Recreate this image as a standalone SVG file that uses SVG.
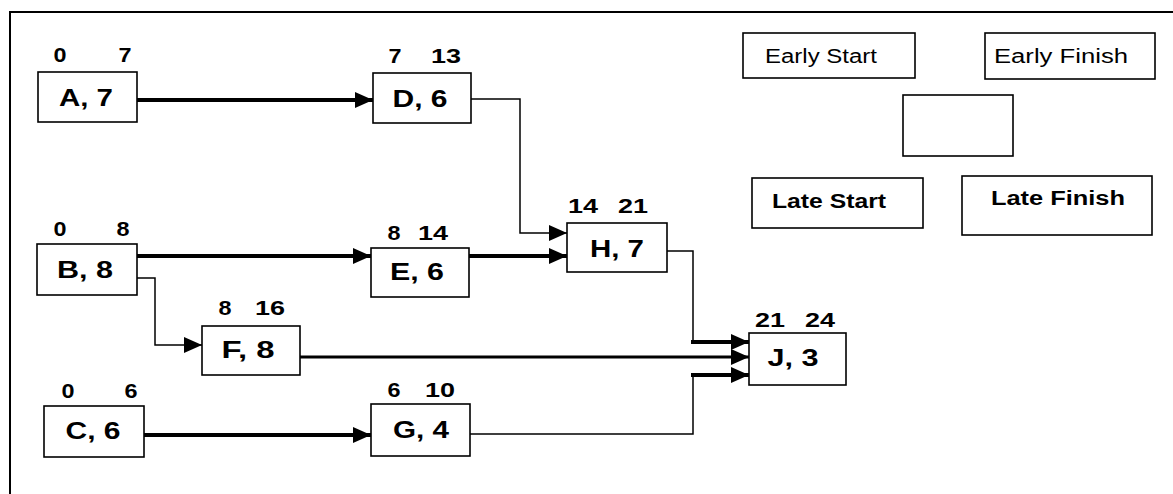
<svg xmlns="http://www.w3.org/2000/svg" width="1173" height="494" viewBox="0 0 1173 494">
<style>
.bg{fill:#fff}
.box{fill:#fff;stroke:#000;stroke-width:1.6}
.lbl{font-family:"Liberation Sans",Arial,sans-serif;font-weight:bold;font-size:24px;fill:#000;text-anchor:middle}
.num{font-family:"Liberation Sans",Arial,sans-serif;font-weight:bold;font-size:20px;fill:#000;text-anchor:middle}
.leg{font-family:"Liberation Sans",Arial,sans-serif;font-size:20px;fill:#000}
.legb{font-family:"Liberation Sans",Arial,sans-serif;font-weight:bold;font-size:20px;fill:#000}
.thin{fill:none;stroke:#000;stroke-width:1.5}
.thick{fill:none;stroke:#000;stroke-width:4}
.mid{fill:none;stroke:#000;stroke-width:3}
.frame{fill:none;stroke:#000;stroke-width:2}
</style>
<defs>
<marker id="ah" markerUnits="userSpaceOnUse" markerWidth="19" markerHeight="16" refX="18" refY="8" orient="auto">
<path d="M0,0 L18,8 L0,16 z" fill="#000"/>
</marker>
</defs>
<rect class="bg" x="0" y="0" width="1173" height="494"/>
<path class="frame" d="M10,494 V12 H1173"/>

<g id="connectors">
<path class="thick" d="M130,100 H373" marker-end="url(#ah)"/>
<path class="thin" d="M471,99 H520 V233 H567" marker-end="url(#ah)"/>
<path class="thick" d="M132,256 H371" marker-end="url(#ah)"/>
<path class="thick" d="M469,256 H567" marker-end="url(#ah)"/>
<path class="thin" d="M137,278 H155 V345 H202" marker-end="url(#ah)"/>
<path class="thick" d="M130,435 H371" marker-end="url(#ah)"/>
<path class="thin" d="M667,251 H693 V342"/>
<path class="thick" d="M691,342 H749" marker-end="url(#ah)"/>
<path class="mid" d="M300,357 H749" marker-end="url(#ah)"/>
<path class="thin" d="M470,434 H693 V375"/>
<path class="thick" d="M691,375 H749" marker-end="url(#ah)"/>
</g>

<g id="node-A">
<rect class="box" x="38" y="72" width="99" height="50"/>
<text class="lbl" x="86" y="106" textLength="54" lengthAdjust="spacingAndGlyphs">A, 7</text>
<text class="num" x="60" y="62" textLength="13" lengthAdjust="spacingAndGlyphs">0</text>
<text class="num" x="125" y="62" textLength="13" lengthAdjust="spacingAndGlyphs">7</text>
</g>
<g id="node-D">
<rect class="box" x="373" y="73" width="98" height="50"/>
<text class="lbl" x="420" y="107" textLength="55" lengthAdjust="spacingAndGlyphs">D, 6</text>
<text class="num" x="395" y="63" textLength="13" lengthAdjust="spacingAndGlyphs">7</text>
<text class="num" x="446" y="63" textLength="30" lengthAdjust="spacingAndGlyphs">13</text>
</g>
<g id="node-B">
<rect class="box" x="37" y="244" width="100" height="51"/>
<text class="lbl" x="85" y="278" textLength="56" lengthAdjust="spacingAndGlyphs">B, 8</text>
<text class="num" x="60" y="236" textLength="13" lengthAdjust="spacingAndGlyphs">0</text>
<text class="num" x="123" y="236" textLength="13" lengthAdjust="spacingAndGlyphs">8</text>
</g>
<g id="node-E">
<rect class="box" x="371" y="248" width="98" height="49"/>
<text class="lbl" x="417" y="280" textLength="54" lengthAdjust="spacingAndGlyphs">E, 6</text>
<text class="num" x="394" y="240" textLength="13" lengthAdjust="spacingAndGlyphs">8</text>
<text class="num" x="433" y="240" textLength="30" lengthAdjust="spacingAndGlyphs">14</text>
</g>
<g id="node-F">
<rect class="box" x="202" y="326" width="98" height="49"/>
<text class="lbl" x="248" y="358" textLength="53" lengthAdjust="spacingAndGlyphs">F, 8</text>
<text class="num" x="225" y="315" textLength="13" lengthAdjust="spacingAndGlyphs">8</text>
<text class="num" x="270" y="315" textLength="30" lengthAdjust="spacingAndGlyphs">16</text>
</g>
<g id="node-C">
<rect class="box" x="44" y="406" width="100" height="51"/>
<text class="lbl" x="93" y="439" textLength="55" lengthAdjust="spacingAndGlyphs">C, 6</text>
<text class="num" x="68" y="398" textLength="13" lengthAdjust="spacingAndGlyphs">0</text>
<text class="num" x="131" y="398" textLength="13" lengthAdjust="spacingAndGlyphs">6</text>
</g>
<g id="node-G">
<rect class="box" x="371" y="404" width="99" height="52"/>
<text class="lbl" x="421" y="438" textLength="56" lengthAdjust="spacingAndGlyphs">G, 4</text>
<text class="num" x="394" y="397" textLength="13" lengthAdjust="spacingAndGlyphs">6</text>
<text class="num" x="440" y="397" textLength="30" lengthAdjust="spacingAndGlyphs">10</text>
</g>
<g id="node-H">
<rect class="box" x="567" y="223" width="100" height="49"/>
<text class="lbl" x="617" y="257" textLength="54" lengthAdjust="spacingAndGlyphs">H, 7</text>
<text class="num" x="583" y="213" textLength="30" lengthAdjust="spacingAndGlyphs">14</text>
<text class="num" x="633" y="213" textLength="30" lengthAdjust="spacingAndGlyphs">21</text>
</g>
<g id="node-J">
<rect class="box" x="749" y="333" width="97" height="52"/>
<text class="lbl" x="793" y="366" textLength="51" lengthAdjust="spacingAndGlyphs">J, 3</text>
<text class="num" x="770" y="327" textLength="30" lengthAdjust="spacingAndGlyphs">21</text>
<text class="num" x="820" y="327" textLength="30" lengthAdjust="spacingAndGlyphs">24</text>
</g>

<g id="legend-early-start">
<rect class="box" x="743" y="33" width="172" height="45"/>
<text class="leg" x="765" y="63" textLength="112" lengthAdjust="spacingAndGlyphs">Early Start</text>
</g>
<g id="legend-early-finish">
<rect class="box" x="985" y="33" width="170" height="46"/>
<text class="leg" x="994" y="63" textLength="134" lengthAdjust="spacingAndGlyphs">Early Finish</text>
</g>
<g id="legend-activity">
<rect class="box" x="903" y="95" width="110" height="61"/>
</g>
<g id="legend-late-start">
<rect class="box" x="752" y="178" width="171" height="50"/>
<text class="legb" x="772" y="208" textLength="114" lengthAdjust="spacingAndGlyphs">Late Start</text>
</g>
<g id="legend-late-finish">
<rect class="box" x="962" y="176" width="190" height="59"/>
<text class="legb" x="991" y="205" textLength="134" lengthAdjust="spacingAndGlyphs">Late Finish</text>
</g>
</svg>
